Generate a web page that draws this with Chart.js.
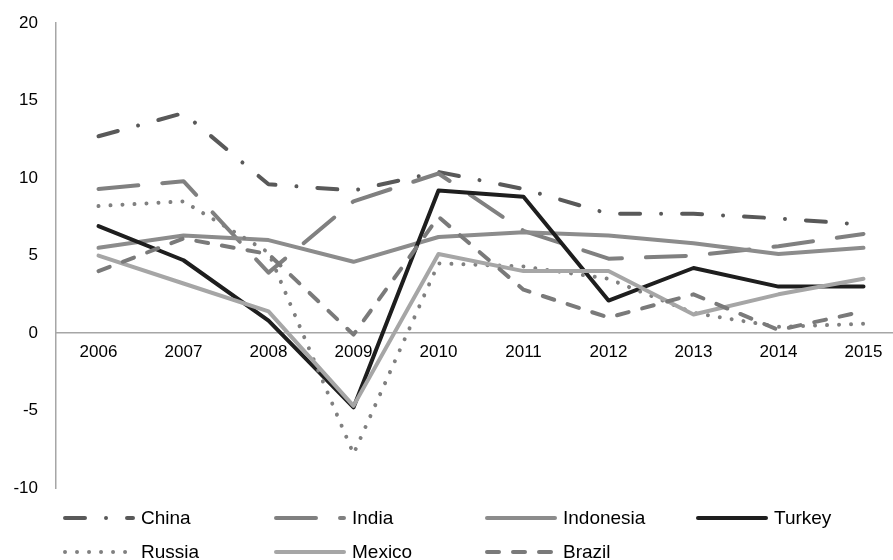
<!DOCTYPE html>
<html>
<head>
<meta charset="utf-8">
<script src="https://cdn.jsdelivr.net/npm/chart.js@4/dist/chart.umd.min.js"></script>
<style>
    html, body { margin: 0; padding: 0; background: #fff; overflow: hidden; }
    #wrap { width: 893px; height: 560px; overflow: hidden; }
    #growthChart { display: block; margin-top: -5px; }
</style>
</head>
<body>
<!-- the original plot area runs slightly past the right and top edges, so the canvas is a bit larger than the page -->
<div id="wrap"><canvas id="growthChart" width="906" height="565"></canvas></div>
<script>
const years = ["2006", "2007", "2008", "2009", "2010", "2011", "2012", "2013", "2014", "2015"];

const china     = [12.7, 14.2, 9.6, 9.2, 10.4, 9.3, 7.7, 7.7, 7.4, 7.0];
const india     = [9.3, 9.8, 3.9, 8.5, 10.3, 6.6, 4.8, 5.0, 5.6, 6.4];
const indonesia = [5.5, 6.3, 6.0, 4.6, 6.2, 6.5, 6.3, 5.8, 5.1, 5.5];
const turkey    = [6.9, 4.7, 0.8, -4.8, 9.2, 8.8, 2.1, 4.2, 3.0, 3.0];
const russia    = [8.2, 8.5, 5.2, -7.8, 4.5, 4.3, 3.5, 1.3, 0.4, 0.6];
const mexico    = [5.0, 3.2, 1.4, -4.7, 5.1, 4.0, 4.0, 1.2, 2.5, 3.5];
const brazil    = [4.0, 6.1, 5.1, -0.1, 7.5, 2.8, 1.0, 2.5, 0.2, 1.4];

const yTicks = [-10, -5, 0, 5, 10, 15, 20];

const FONT = "'Liberation Sans', Arial, sans-serif";
const axisGrey = '#a6a6a6';

function series(label, data, color, dash) {
    return {
        label: label,
        data: data,
        borderColor: color,
        backgroundColor: color,
        borderWidth: 4,
        borderDash: dash,
        borderCapStyle: 'round',
        borderJoinStyle: 'round',
        pointRadius: 0,
        tension: 0,
        fill: false
    };
}

const datasets = [
    series('China', china, '#595959', [20, 21, 0.01, 21]),
    series('India', india, '#808080', [40, 24]),
    series('Indonesia', indonesia, '#8c8c8c', []),
    series('Turkey', turkey, '#1e1e1e', []),
    series('Russia', russia, '#808080', [0.01, 12]),
    series('Mexico', mexico, '#a6a6a6', []),
    series('Brazil', brazil, '#7a7a7a', [12, 14])
];
// later series sit on top, like the original
datasets.forEach((ds, i) => { ds.order = -i; });

// legend laid out as a fixed grid of 4 columns
const legendGrid = {
    id: 'legendGrid',
    afterDraw(chart) {
        const ctx = chart.ctx;
        const left = chart.chartArea.left + 7;
        const top = chart.chartArea.bottom + 30;
        chart.data.datasets.forEach((ds, i) => {
            const x = left + (i % 4) * 211;
            const y = top + Math.floor(i / 4) * 34;
            ctx.save();
            ctx.strokeStyle = ds.borderColor;
            ctx.lineWidth = ds.borderWidth;
            ctx.lineCap = 'round';
            ctx.setLineDash(ds.borderDash);
            ctx.beginPath();
            ctx.moveTo(x + 2, y);
            ctx.lineTo(x + 70, y);
            ctx.stroke();
            ctx.setLineDash([]);
            ctx.fillStyle = '#000';
            ctx.font = '19px ' + FONT;
            ctx.textBaseline = 'middle';
            ctx.fillText(ds.label, x + 78, y + 1);
            ctx.restore();
        });
    }
};

new Chart(document.getElementById('growthChart'), {
    type: 'line',
    data: { labels: years, datasets: datasets },
    options: {
        responsive: false,
        animation: false,
        layout: { padding: { top: 11, right: 0, bottom: 72, left: 0 } },
        plugins: {
            legend: { display: false },
            tooltip: { enabled: false }
        },
        scales: {
            x: {
                position: { y: 0 },
                offset: true,
                grid: { display: false, drawTicks: false },
                border: { display: true, color: axisGrey, width: 1.5 },
                ticks: {
                    color: '#000',
                    font: { family: FONT, size: 17 },
                    padding: 9,
                    autoSkip: false,
                    maxRotation: 0
                },
                afterFit: s => { s.height = 0; }
            },
            y: {
                min: -10,
                max: 20,
                afterBuildTicks: s => { s.ticks = yTicks.map(v => ({ value: v })); },
                grid: { display: false, drawTicks: false },
                border: { display: true, color: axisGrey, width: 1.5 },
                ticks: {
                    color: '#000',
                    font: { family: FONT, size: 17 },
                    padding: 18
                },
                afterFit: s => { s.width = 56; }
            }
        }
    },
    plugins: [legendGrid]
});
</script>
</body>
</html>
